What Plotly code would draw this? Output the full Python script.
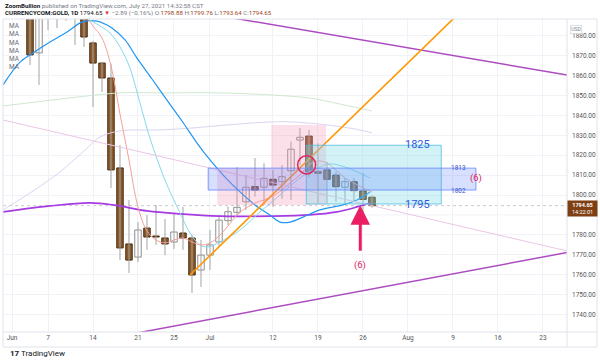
import plotly.graph_objects as go

# ---------------- data ----------------
day_idx = list(range(41))  # trading days from Jun 1 2021 (0) to Jul 27 2021 (40)
opens = [1905, 1903, 1908, 1871.4, 1891, 1899, 1893, 1889, 1898, 1876.4,
         1866.3, 1858.8, 1813.6, 1775.4, 1768.8, 1783.4, 1779.4, 1778.4, 1776.4, 1780.9,
         1778.4, 1762.3, 1769.8, 1776.4, 1787.1, 1791.3, 1796.6, 1804.2, 1803.9, 1807.9,
         1806.7, 1812.2, 1827.6, 1829.6, 1811.7, 1812.6, 1810.0, 1803.9, 1806.7, 1802.0,
         1798.88]
highs = [1916, 1910, 1910, 1893, 1903, 1903, 1900, 1900, 1903, 1877.5,
         1867, 1866, 1825.1, 1797.5, 1786.4, 1789.9, 1795.0, 1787.9, 1791.0, 1794.0,
         1780.0, 1777.4, 1782.4, 1790.0, 1794.1, 1814.0, 1810.0, 1818.6, 1816.0, 1812.6,
         1815.0, 1826.8, 1833.7, 1832.7, 1826.0, 1816.7, 1811.7, 1808.5, 1808.5, 1811.2,
         1799.76]
lows = [1898, 1895, 1865.3, 1855.3, 1882.9, 1883.9, 1887.5, 1875.4, 1874.4, 1844.2,
        1851.8, 1803.5, 1767.3, 1760.8, 1766.3, 1772.4, 1774.9, 1769.8, 1772.9, 1772.4,
        1750.8, 1753.8, 1762.3, 1774.0, 1784.9, 1789.1, 1792.5, 1799.2, 1795.0, 1794.1,
        1798.0, 1797.5, 1815.0, 1809.0, 1795.8, 1795.8, 1796.6, 1795.0, 1796.6, 1789.5,
        1793.64]
closes = [1903, 1908, 1870.4, 1891, 1899, 1893, 1889, 1898, 1879.4, 1866.3,
          1858.8, 1812.6, 1773.4, 1767.3, 1782.4, 1778.9, 1778.9, 1775.4, 1781.4, 1778.4,
          1759.8, 1769.8, 1774.9, 1787.4, 1791.6, 1793.8, 1803.9, 1802.5, 1808.4, 1805.0,
          1809.2, 1823.0, 1829.0, 1811.7, 1810.9, 1807.9, 1804.2, 1806.7, 1802.2, 1797.8,
          1794.65]

tick_pos = [0, 4, 9, 14, 18, 22, 29, 34, 39, 44, 49, 54, 59]
tick_text = ["Jun", "7", "14", "21", "25", "Jul", "12", "19", "26", "Aug", "9", "16", "23"]
price_ticks = [1740, 1750, 1760, 1770, 1780, 1800, 1810, 1820, 1830, 1840, 1850, 1860, 1870, 1880]
price_grid = [1790]  # grid line whose label sits under the last-price tag

ma_blue_x = [-1, 0.89, 2.33, 4.22, 6.11, 7.78, 9.44, 10.56, 11.11, 12.56, 13.89, 15.56, 17.22,
             18.89, 20.56, 22, 23.67, 25.11, 27, 28.67, 29.78, 30.89, 32.33, 34.22, 36.78,
             38.33, 39.78]
ma_blue_y = [1855.3, 1866.8, 1871.4, 1876.9, 1881.9, 1886.9, 1887.4, 1885.4, 1883.9, 1877.9,
             1868.8, 1858.3, 1847.7, 1837.2, 1826.1, 1817.6, 1809.0, 1802.5, 1795.0, 1789.9,
             1786.4, 1786.4, 1788.9, 1792.5, 1795.0, 1797.5, 1801.5]
ma_cyan_x = [7.56, 8.67, 9.78, 10.89, 12, 13.11, 14.22, 15.33, 17, 18.67, 19.78, 20.89, 21.78,
             23.11, 25.33, 27.56, 29.78, 32, 33.89, 35.33, 37, 39.78]
ma_cyan_y = [1891.0, 1887.9, 1884.9, 1881.4, 1874.4, 1863.8, 1846.2, 1828.6, 1807.5, 1791.0,
             1780.9, 1774.9, 1773.9, 1776.4, 1782.4, 1791.5, 1800.0, 1808.5, 1813.6, 1815.6,
             1814.1, 1808.5]
ma_red_x = list(range(7, 41))
ma_red_y = [1893, 1891, 1884.9, 1878.9, 1864.8, 1840.7, 1817.6, 1794, 1781.9, 1777.4,
            1775.9, 1777.4, 1778.4, 1776.4, 1774.9, 1775.9, 1779.4, 1784.4, 1789.9, 1793.5,
            1796, 1797.5, 1799.5, 1802.5, 1806.5, 1810.1, 1815.1, 1817.1, 1816.1, 1812.6,
            1808.5, 1806, 1803.5, 1801.5]
ma_green_x = [-1, 5.33, 12, 16.44, 23.11, 28.67, 33.11, 36.44, 40]
ma_green_y = [1844.7, 1848.2, 1851.3, 1851.3, 1851.3, 1850.3, 1848.7, 1845.7, 1842.2]
ma_lav_x = [-1, 2, 5.33, 8.11, 9.78, 12, 16.44, 20.11, 23.89, 28.67, 31.22, 35, 38.67, 40]
ma_lav_y = [1792.5, 1801, 1811.6, 1822.6, 1829.1, 1832.2, 1832.7, 1833.7, 1835.2, 1836.7,
            1836.7, 1835.2, 1832.7, 1831.2]
ma_purple_x = [-1, 4.22, 8.67, 11.22, 15, 18.67, 23.11, 28.67, 33.11, 36.11, 38.33, 39.78]
ma_purple_y = [1791.5, 1794.5, 1796, 1795, 1792.0, 1790.5, 1789.4, 1789.4, 1790.0, 1791.5,
               1794, 1796]

orange_x = [19.78, 50.0]
orange_y = [1759.8, 1892.8]
trend_top_x = [24.22, 61.67]
trend_top_y = [1889.2, 1860.3]
trend_bot_x = [13.0, 61.67]
trend_bot_y = [1729.9, 1771.1]
trend_pink_x = [-1, 61.67]
trend_pink_y = [1837.7, 1771.9]

pink_x0 = [22.8, 28.8]
pink_x1 = [28.8, 34.9]
pink_y0 = [1795.0, 1795.0]
pink_y1 = [1813.6, 1835.2]
blue_box = [21.8, 51.55, 1802.5, 1813.5]
cyan_box = [32.7, 47.7, 1795.5, 1825.0]
circle_box = [31.74, 33.74, 1810.55, 1819.75]

last_price = 1794.65

# ---------------- figure ----------------
X0, X1 = -1.0, 61.67
Y0, Y1 = 1731.16, 1888.44
PL, PR, PT, PB = 3, 567, 19, 332


def px(x):
    return (x - PL) / (PR - PL)


def py(y):
    return (PB - y) / (PB - PT)


fig = go.Figure()

# wicks
wx, wy = [], []
for i, h, l in zip(day_idx, highs, lows):
    wx += [i, i, None]
    wy += [l, h, None]
fig.add_trace(go.Scatter(x=wx, y=wy, mode="lines", line=dict(color="#a3a3a3", width=1),
                         hoverinfo="skip"))

# bodies
up = [c >= o for o, c in zip(opens, closes)]
fig.add_trace(go.Bar(
    x=day_idx,
    y=[max(abs(c - o), 0.3) for o, c in zip(opens, closes)],
    base=[min(o, c) for o, c in zip(opens, closes)],
    width=0.72,
    marker=dict(color=["#ffffff" if u else "#8b5a2b" for u in up],
                line=dict(color=["#8f8f8f" if u else "#4a2a0f" for u in up], width=1)),
    hoverinfo="skip"))

# moving averages
for xs, ys, col, w in [
    (ma_green_x, ma_green_y, "#cfe8d0", 1),
    (ma_lav_x, ma_lav_y, "#ddd3f0", 1),
    (ma_purple_x, ma_purple_y, "#a63be3", 1.7),
    (ma_blue_x, ma_blue_y, "#2196f3", 1.2),
    (ma_cyan_x, ma_cyan_y, "#86d9ec", 1),
    (ma_red_x, ma_red_y, "#f4a09a", 1),
]:
    fig.add_trace(go.Scatter(x=xs, y=ys, mode="lines", line=dict(color=col, width=w, shape="spline"),
                             hoverinfo="skip"))

# trend lines
for xs, ys, col, w in [
    (trend_pink_x, trend_pink_y, "#ebc6e6", 1),
    (trend_top_x, trend_top_y, "#ad4cc0", 1.5),
    (trend_bot_x, trend_bot_y, "#ad4cc0", 1.5),
    (orange_x, orange_y, "#ff9800", 1.6),
]:
    fig.add_trace(go.Scatter(x=xs, y=ys, mode="lines", line=dict(color=col, width=w),
                             hoverinfo="skip"))

shapes = []
for g in price_grid:
    shapes.append(dict(type="line", xref="x", yref="y", x0=X0, x1=X1, y0=g, y1=g,
                       line=dict(color="#f1f2f7", width=1), layer="below"))
# last price line
shapes.append(dict(type="line", xref="x", yref="y", x0=X0, x1=X1, y0=last_price, y1=last_price,
                   line=dict(color="#c9c9c9", width=1, dash="dot"), layer="below"))
# rectangles
for a, b, c, d in zip(pink_x0, pink_x1, pink_y0, pink_y1):
    shapes.append(dict(type="rect", xref="x", yref="y", x0=a, x1=b, y0=c, y1=d,
                       fillcolor="rgba(244,143,177,0.28)", line=dict(width=0), layer="above"))
shapes.append(dict(type="rect", xref="x", yref="y", x0=cyan_box[0], x1=cyan_box[1],
                   y0=cyan_box[2], y1=cyan_box[3], fillcolor="rgba(120,216,232,0.33)",
                   line=dict(color="rgba(80,190,225,0.8)", width=1), layer="above"))
shapes.append(dict(type="rect", xref="x", yref="y", x0=blue_box[0], x1=blue_box[1],
                   y0=blue_box[2], y1=blue_box[3], fillcolor="rgba(90,125,255,0.24)",
                   line=dict(color="rgba(100,130,255,0.8)", width=1), layer="above"))
shapes.append(dict(type="circle", xref="x", yref="y", x0=circle_box[0], x1=circle_box[1],
                   y0=circle_box[2], y1=circle_box[3], line=dict(color="#e0245e", width=1.5),
                   layer="above"))
# frame lines
fc = "#e0e3eb"
for (xa, ya, xb, yb) in [(PL, PT, 597, PT), (PL, PB, 597, PB), (PL, 347, 597, 347),
                         (PL, PT, PL, 347), (597, PT, 597, 347), (PR, PT, PR, 347)]:
    shapes.append(dict(type="line", xref="paper", yref="paper", x0=px(xa), x1=px(xb),
                       y0=py(ya), y1=py(yb), line=dict(color=fc, width=1), layer="above"))

ann = []
ann.append(dict(xref="paper", yref="paper", x=px(3), y=py(5.5), xanchor="left", yanchor="middle",
                showarrow=False, font=dict(size=6.2, color="#787b86"),
                text="<b><span style='color:#131722'>ZoomBullion</span></b> published on TradingView.com, July 27, 2021 14:32:58 CST"))
vc = "#a0461c"
hdr2 = ("<b><span style='color:#131722'>CURRENCYCOM:GOLD, 1D</span></b> "
        "<span style='color:#131722'>1794.65</span> <span style='color:#e53935'>▼</span> "
        "−2.89 (−0.16%) "
        + "O:<span style='color:" + vc + "'>1798.88</span> "
        + "H:<span style='color:" + vc + "'>1799.76</span> "
        + "L:<span style='color:" + vc + "'>1793.64</span> "
        + "C:<span style='color:" + vc + "'>1794.65</span>")
ann.append(dict(xref="paper", yref="paper", x=px(3), y=py(13.5), xanchor="left", yanchor="middle",
                showarrow=False, font=dict(size=6.2, color="#787b86"), text=hdr2))
for yy in [26, 34.3, 42.6, 50.9, 59.2, 66.5]:
    ann.append(dict(xref="paper", yref="paper", x=px(7), y=py(yy), xanchor="left", yanchor="middle",
                    showarrow=False, text="MA", font=dict(size=6.5, color="#6a6d78")))
# drawing labels
ann.append(dict(x=45.06, y=1825.3, text="1825", showarrow=False, font=dict(size=11, color="#2f5be0")))
ann.append(dict(x=45.06, y=1795.3, text="1795", showarrow=False, font=dict(size=11, color="#2f5be0")))
ann.append(dict(x=49.56, y=1813.8, text="1813", showarrow=False, font=dict(size=6.5, color="#3a56c8")))
ann.append(dict(x=49.56, y=1801.8, text="1802", showarrow=False, font=dict(size=6.5, color="#3a56c8")))
ann.append(dict(x=51.56, y=1808.4, text="(6)", showarrow=False, font=dict(size=9.5, color="#e0245e")))
ann.append(dict(x=38.72, y=1764.8, text="(6)", showarrow=False, font=dict(size=9.5, color="#e0245e")))
ann.append(dict(x=38.7, y=1794.9, ax=0, ay=47, text="", showarrow=True, arrowhead=2, arrowsize=1.3,
                arrowwidth=3, arrowcolor="#e91e63"))
# right axis extras
ann.append(dict(xref="paper", yref="paper", x=px(582), y=py(25.5), text="USD", showarrow=False,
                font=dict(size=5, color="#787b86"), bordercolor="#d6d8e0", borderwidth=0.8,
                borderpad=0.5, bgcolor="white"))
ann.append(dict(xref="paper", yref="y", x=px(PR), y=last_price, xanchor="left", yanchor="middle",
                yshift=-3, showarrow=False, align="center", width=27,
                text="<b>1794.65</b><br>14:22:01", font=dict(size=5.5, color="white"),
                bgcolor="#7e3f12", borderpad=1))
ann.append(dict(xref="paper", yref="paper", x=px(8), y=py(353.5), xanchor="left", yanchor="middle",
                showarrow=False, text="<b>17</b> TradingView", font=dict(size=8, color="#131722")))

fig.update_layout(
    width=600, height=361, margin=dict(l=PL, r=600 - PR, t=PT, b=361 - PB),
    paper_bgcolor="white", plot_bgcolor="white", showlegend=False, barmode="overlay",
    font=dict(family="Roboto", color="#555"),
    shapes=shapes, annotations=ann,
    xaxis=dict(range=[X0, X1], tickmode="array", tickvals=tick_pos, ticktext=tick_text,
               showgrid=True, gridcolor="#f1f2f7", gridwidth=1, zeroline=False, showline=False,
               ticks="", tickfont=dict(size=6.5, color="#555"), fixedrange=True),
    yaxis=dict(range=[Y0, Y1], side="right", tickmode="array", tickvals=price_ticks,
               tickformat=".2f",
               showgrid=True, gridcolor="#f1f2f7", gridwidth=1, zeroline=False, showline=False,
               ticks="", tickfont=dict(size=6.5, color="#555"), ticklabelstandoff=4,
               fixedrange=True),
)

fig.write_html("out.html")
